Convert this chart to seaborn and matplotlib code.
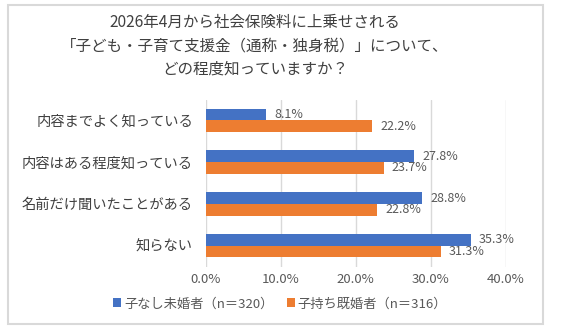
import matplotlib
matplotlib.use("Agg")
import matplotlib.pyplot as plt
import seaborn as sns
import pandas as pd
from matplotlib.patches import Rectangle
from matplotlib.ticker import FuncFormatter

categories = ["内容までよく知っている", "内容はある程度知っている", "名前だけ聞いたことがある", "知らない"]
series_names = ["子なし未婚者（n＝320）", "子持ち既婚者（n＝316）"]
single_vals = [8.1, 27.8, 28.8, 35.3]
married_vals = [22.2, 23.7, 22.8, 31.3]
xticks = [0, 10, 20, 30, 40]
title = "2026年4月から社会保険料に上乗せされる\n「子ども・子育て支援金（通称・独身税）」について、\nどの程度知っていますか？"

sns.set_theme(style="white")
plt.rcParams['font.family'] = ['Noto Sans CJK JP', 'DejaVu Sans']

df = pd.DataFrame({
    "category": categories * 2,
    "series": [series_names[0]] * 4 + [series_names[1]] * 4,
    "value": single_vals + married_vals,
})

colors = ["#4472C4", "#ED7D31"]
text_color = "#595959"

W, H = 567, 333
fig = plt.figure(figsize=(W / 100, H / 100), dpi=100)
fig.patch.set_facecolor("white")
fig.patches.append(Rectangle((8 / W, 1 - 324 / H), (543 - 8) / W, (324 - 5) / H, transform=fig.transFigure,
                             fill=False, edgecolor="#D9D9D9", linewidth=1.5, zorder=0))

ax_l, ax_r, ax_t, ax_b = 205.5, 506, 99.5, 266.5
ax = fig.add_axes([ax_l / W, 1 - ax_b / H, (ax_r - ax_l) / W, (ax_b - ax_t) / H])
sns.barplot(data=df, y="category", x="value", hue="series", palette=colors, orient="h",
            width=0.56, ax=ax, saturation=1, legend=True, linewidth=0)

ax.set_xlim(0, 40)
ax.set_ylim(3.5, -0.5)
ax.set_xticks(xticks)
ax.xaxis.set_major_formatter(FuncFormatter(lambda v, p: f"{v:.1f}%"))
ax.set_xlabel("")
ax.set_ylabel("")
ax.grid(axis="x", color="#D9D9D9", linewidth=1)
ax.set_axisbelow(True)
for s in ax.spines.values():
    s.set_visible(False)
ax.tick_params(axis="x", colors=text_color, labelsize=9.5, length=0, pad=5)
ax.tick_params(axis="y", colors="#404040", labelsize=10.3, length=0, pad=9)

for cont in ax.containers:
    ax.bar_label(cont, labels=[f"{b.get_width():.1f}%" for b in cont], padding=6,
                 fontsize=9, color=text_color)

handles, labels = ax.get_legend_handles_labels()
leg_cx = (280 - ax_l) / (ax_r - ax_l)
leg_cy = -(304 - ax_b) / (ax_b - ax_t)
ax.legend(handles, labels, loc="center", bbox_to_anchor=(leg_cx, leg_cy), ncol=2, frameon=False,
          fontsize=9.5, handlelength=0.65, handleheight=0.65, handletextpad=0.2, columnspacing=1.0,
          labelcolor=text_color, borderpad=0)

fig.text(255 / W, 1 - 46 / H, title, ha="center", va="center", fontsize=11.2, color="#404040",
         linespacing=1.5)

fig.savefig("out.png", dpi=100)
